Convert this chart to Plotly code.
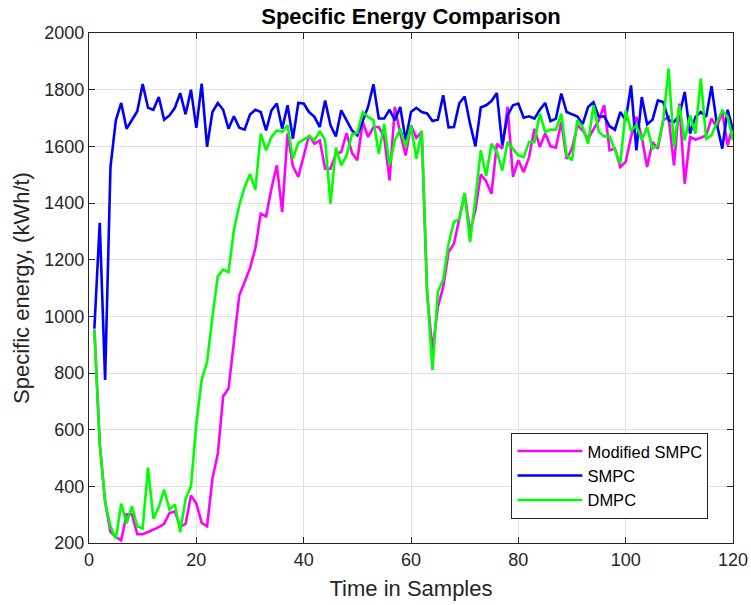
import plotly.graph_objects as go

samples = list(range(1, 121))

smpc = [956, 1330, 775, 1527, 1692, 1753, 1662, 1692, 1724, 1820,
        1736, 1729, 1774, 1694, 1709, 1736, 1788, 1713, 1800, 1665,
        1821, 1598, 1721, 1753, 1729, 1662, 1706, 1666, 1659, 1712,
        1729, 1721, 1656, 1727, 1751, 1662, 1745, 1627, 1753, 1751,
        1721, 1704, 1668, 1762, 1674, 1635, 1727, 1692, 1656, 1639,
        1686, 1739, 1819, 1698, 1698, 1729, 1692, 1739, 1621, 1721,
        1736, 1721, 1716, 1689, 1694, 1780, 1667, 1668, 1752, 1776,
        1680, 1600, 1737, 1745, 1760, 1788, 1604, 1709, 1745, 1751,
        1701, 1706, 1698, 1729, 1753, 1689, 1698, 1786, 1721, 1714,
        1705, 1678, 1739, 1756, 1704, 1706, 1671, 1659, 1721, 1692,
        1815, 1586, 1774, 1678, 1694, 1762, 1756, 1692, 1686, 1709,
        1792, 1645, 1704, 1721, 1704, 1812, 1678, 1592, 1729, 1659]

dmpc = [953, 551, 345, 259, 215, 339, 269, 329, 259, 251,
        466, 286, 327, 388, 318, 336, 239, 356, 400, 621,
        776, 839, 998, 1141, 1165, 1156, 1305, 1392, 1456, 1502,
        1447, 1645, 1586, 1633, 1656, 1651, 1674, 1556, 1612, 1624,
        1635, 1621, 1654, 1621, 1398, 1595, 1533, 1568, 1642, 1647,
        1721, 1704, 1692, 1574, 1680, 1533, 1621, 1662, 1598, 1674,
        1556, 1656, 1090, 810, 1086, 1130, 1256, 1333, 1343, 1436,
        1262, 1415, 1586, 1495, 1609, 1580, 1515, 1615, 1592, 1568,
        1562, 1615, 1615, 1715, 1651, 1659, 1659, 1715, 1568, 1551,
        1692, 1668, 1609, 1745, 1651, 1635, 1635, 1586, 1539, 1727,
        1656, 1674, 1621, 1668, 1592, 1603, 1692, 1874, 1598, 1745,
        1621, 1709, 1645, 1839, 1627, 1639, 1680, 1727, 1704, 1621]

modified_smpc = [953, 551, 345, 239, 221, 209, 301, 301, 231, 231,
                 239, 247, 256, 268, 306, 312, 256, 268, 368, 339,
                 271, 259, 427, 515, 718, 745, 904, 1074, 1121, 1170,
                 1240, 1362, 1353, 1451, 1533, 1368, 1645, 1529, 1492, 1562,
                 1639, 1609, 1621, 1521, 1521, 1574, 1580, 1647, 1577, 1551,
                 1686, 1633, 1668, 1668, 1633, 1480, 1739, 1645, 1568, 1674,
                 1630, 1651, 1080, 880, 1033, 1103, 1227, 1256, 1339, 1433,
                 1298, 1374, 1501, 1477, 1433, 1609, 1592, 1739, 1492, 1551,
                 1509, 1562, 1662, 1598, 1645, 1600, 1595, 1686, 1556, 1592,
                 1674, 1656, 1627, 1662, 1692, 1745, 1586, 1592, 1527, 1545,
                 1633, 1704, 1633, 1527, 1615, 1592, 1692, 1704, 1533, 1751,
                 1468, 1633, 1624, 1630, 1639, 1698, 1668, 1721, 1603, 1674]

x_ticks = [0, 20, 40, 60, 80, 100, 120]
y_ticks = [200, 400, 600, 800, 1000, 1200, 1400, 1600, 1800, 2000]

FONT = "Liberation Sans, Arial, sans-serif"
AX = "#262626"
LW = 2.6

fig = go.Figure()
fig.add_trace(go.Scatter(x=samples, y=modified_smpc, mode="lines", name="Modified SMPC",
                         line=dict(color="#FF00FF", width=LW)))
fig.add_trace(go.Scatter(x=samples, y=smpc, mode="lines", name="SMPC",
                         line=dict(color="#0000FF", width=LW)))
fig.add_trace(go.Scatter(x=samples, y=dmpc, mode="lines", name="DMPC",
                         line=dict(color="#00FF00", width=LW)))

axis_common = dict(
    showline=True, linecolor=AX, linewidth=1.3, mirror="ticks",
    ticks="inside", ticklen=6, tickcolor=AX, tickwidth=1,
    showgrid=True, gridcolor="#e1e1e1", gridwidth=1, zeroline=False,
    tickfont=dict(family=FONT, size=18, color=AX),
    automargin=False,
)

fig.update_layout(
    width=751, height=605,
    paper_bgcolor="white", plot_bgcolor="white",
    margin=dict(l=89, r=18, t=33, b=62),
    title=dict(text="<b>Specific Energy Comparison</b>", x=0.5, xref="paper", xanchor="center",
               y=1 - 16 / 605, yref="container", yanchor="middle",
               font=dict(family=FONT, size=22, color="black")),
    xaxis=dict(range=[0, 120], tickvals=x_ticks,
               title=dict(text="Time in Samples", font=dict(family=FONT, size=22, color=AX), standoff=11),
               **axis_common),
    yaxis=dict(range=[200, 2000], tickvals=y_ticks,
               title=dict(text="Specific energy, (kWh/t)", font=dict(family=FONT, size=22, color=AX), standoff=8),
               **axis_common),
    legend=dict(x=0.656, y=0.216, xanchor="left", yanchor="top",
                bgcolor="white", bordercolor=AX, borderwidth=1,
                font=dict(family=FONT, size=16.5, color="black"),
                tracegroupgap=0, itemwidth=65),
    showlegend=True,
)

fig.write_html("out.html", config={"displayModeBar": False},
               post_script="document.body.style.margin='0';document.body.style.padding='0';")
